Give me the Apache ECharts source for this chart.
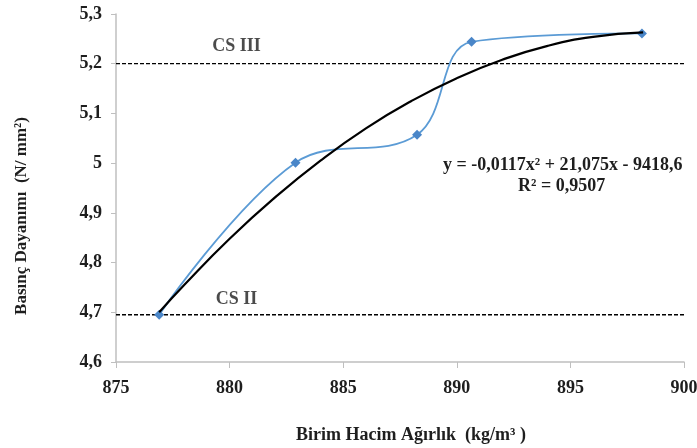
<!DOCTYPE html>
<html lang="tr">
<head>
<meta charset="UTF-8">
<title>Basınç Dayanımı</title>
<script src="https://cdn.jsdelivr.net/npm/echarts@6/dist/echarts.min.js"></script>
<style>
html, body { margin: 0; padding: 0; background: #fff; }
#container { width: 697px; height: 448px; }
</style>
</head>
<body>
<div id="container"></div>
<script type="text/javascript">
// measured points (Birim Hacim Ağırlık, Basınç Dayanımı)
var densities = [876.9, 882.9, 888.25, 890.65, 898.15];
var strengths = [4.695, 5.001, 5.057, 5.244, 5.261];

// polynomial trend line
var trendX = [876.9, 878, 880, 882, 884, 886, 888, 890, 892, 894, 896, 898.2];
var trendY = [4.700, 4.755, 4.848, 4.931, 5.005, 5.070, 5.125, 5.171, 5.208, 5.236, 5.254, 5.263];

// class limits
var limitNames = ['CS III', 'CS II'];
var limitValues = [5.2, 4.695];

var xTicks = [875, 880, 885, 890, 895, 900];
var yTicks = [4.6, 4.7, 4.8, 4.9, 5, 5.1, 5.2, 5.3];

var serif = '"Liberation Serif", "DejaVu Serif", serif';
var ink = '#1e1e1e';

function zip(a, b) {
    var out = [];
    for (var i = 0; i < a.length; i++) out.push([a[i], b[i]]);
    return out;
}

var dom = document.getElementById('container');
var myChart = echarts.init(dom);

var limitSeries = limitValues.map(function (v, i) {
    return {
        name: limitNames[i],
        type: 'line',
        data: [[xTicks[0], v], [xTicks[xTicks.length - 1], v]],
        symbol: 'none',
        lineStyle: { color: '#000', width: 1.3, type: [4, 2] },
        z: 1
    };
});

var option = {
    animation: false,
    grid: { left: 116, right: 13, top: 14, bottom: 86, outerBoundsMode: 'none' },
    xAxis: {
        type: 'value',
        min: 875,
        max: 900,
        interval: 5,
        name: 'Birim Hacim Ağırlık  (kg/m³ )',
        nameLocation: 'middle',
        nameGap: 64,
        nameTextStyle: { fontFamily: serif, fontWeight: 'bold', fontSize: 18, color: ink, padding: [0, 0, 0, 22] },
        axisLine: { lineStyle: { color: '#bfbfbf', width: 1.5 } },
        axisTick: { show: true, length: 6, lineStyle: { color: '#bfbfbf' } },
        splitLine: { show: false },
        axisLabel: { fontFamily: serif, fontWeight: 'bold', fontSize: 18, color: ink, margin: 17 }
    },
    yAxis: {
        type: 'value',
        min: 4.6,
        max: 5.3,
        interval: 0.1,
        name: 'Basınç Dayanımı  (N/ mm²)',
        nameLocation: 'middle',
        nameGap: 86,
        nameTextStyle: { fontFamily: serif, fontWeight: 'bold', fontSize: 17, color: ink, padding: [0, 56, 0, 0] },
        axisLine: { show: true, lineStyle: { color: '#bfbfbf', width: 1.5 } },
        axisTick: { show: true, length: 5, lineStyle: { color: '#bfbfbf' } },
        splitLine: { show: false },
        axisLabel: {
            fontFamily: serif, fontWeight: 'bold', fontSize: 18, color: ink, margin: 14,
            formatter: function (v) {
                return (Math.round(v * 10) / 10).toString().replace('.', ',');
            }
        }
    },
    graphic: [
        {
            type: 'text', left: 443, top: 156,
            style: { text: 'y = -0,0117x² + 21,075x - 9418,6', font: 'bold 18px ' + serif, fill: ink }
        },
        {
            type: 'text', left: 518, top: 177,
            style: { text: 'R² = 0,9507', font: 'bold 18px ' + serif, fill: ink }
        }
    ],
    series: limitSeries.concat([
        {
            name: 'labels',
            type: 'scatter',
            symbolSize: 0,
            data: [[880.3, 5.235, limitNames[0]], [880.3, 4.726, limitNames[1]]],
            label: {
                show: true,
                position: 'inside',
                formatter: function (p) { return p.data[2]; },
                fontFamily: serif, fontWeight: 'bold', fontSize: 18, color: ink
            },
            silent: true
        },
        {
            name: 'Deney',
            type: 'line',
            data: zip(densities, strengths),
            smooth: 0.38,
            symbol: 'diamond',
            symbolSize: 10,
            itemStyle: { color: '#4a86c8' },
            lineStyle: { color: '#5b9bd5', width: 1.8 },
            z: 3
        },
        {
            name: 'Trend',
            type: 'line',
            data: zip(trendX, trendY),
            smooth: true,
            symbol: 'none',
            lineStyle: { color: '#000', width: 2.2 },
            z: 4
        }
    ])
};

myChart.setOption(option);
</script>
</body>
</html>
